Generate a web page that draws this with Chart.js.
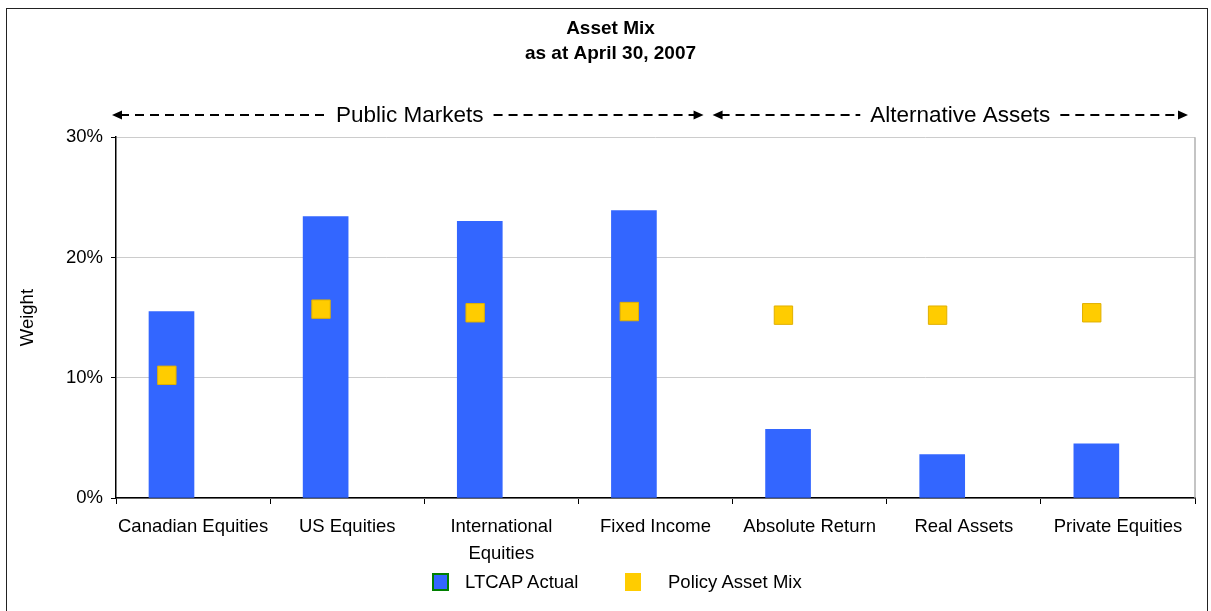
<!DOCTYPE html>
<html>
<head>
<meta charset="utf-8">
<title>Asset Mix</title>
<script src="https://cdn.jsdelivr.net/npm/chart.js@4.4.0/dist/chart.umd.min.js"></script>
<style>
    html, body { margin: 0; padding: 0; background: #fff; }
    body { width: 1211px; height: 611px; position: relative; overflow: hidden; font-family: 'Liberation Sans', Arial, sans-serif; }
    #frame { position: absolute; left: 6px; top: 8px; width: 1202px; height: 620px; border: 1.5px solid #222; box-sizing: border-box; }
    #wrap { position: absolute; left: 0; top: 0; width: 1211px; height: 611px; }
    .leg { position: absolute; font-size: 18.5px; color: #000; line-height: 18px; }
    .box { position: absolute; box-sizing: border-box; }
</style>
</head>
<body>
<div id="frame"></div>
<div id="wrap"><canvas id="chart" width="1211" height="611"></canvas></div>
<div class="box" style="left:432px; top:573px; width:17px; height:18px; background:#3366FF; border:2px solid #008000;"></div>
<div class="leg" style="left:465px; top:573px;">LTCAP Actual</div>
<div class="box" style="left:625px; top:573px; width:16px; height:18px; background:#FFCC00;"></div>
<div class="leg" style="left:668px; top:573px;">Policy Asset Mix</div>
<script>
// 资产类别
const CATEGORIES = [
    'Canadian Equities', 'US Equities', ['International', 'Equities'], 'Fixed Income',
    'Absolute Return', 'Real Assets', 'Private Equities'
];
const LTCAP_ACTUAL = [15.5, 23.4, 23.0, 23.9, 5.7, 3.6, 4.5];
const POLICY_MIX = [10.2, 15.7, 15.4, 15.5, 15.2, 15.2, 15.4];
const Y_TICKS = [0, 10, 20, 30];
const GROUPS = ['Public Markets', 'Alternative Assets'];

const BAR_SHIFT = -0.14;     // 柱子偏左
const MARK_SHIFT = -0.17;

const FONT = "'Liberation Sans', Arial, sans-serif";

// 顶部虚线箭头
const groupArrows = {
    id: 'groupArrows',
    afterDraw(chart) {
        const { ctx, chartArea } = chart;
        const x = chart.scales.x;
        const split = (x.getPixelForValue(3) + x.getPixelForValue(4)) / 2;
        const y = 115;
        const spans = [
            [chartArea.left - 4, split - 29, GROUPS[0]],
            [split - 20, chartArea.right - 7, GROUPS[1]]
        ];
        ctx.save();
        ctx.font = '22.5px ' + FONT;
        ctx.fillStyle = '#000';
        ctx.strokeStyle = '#000';
        ctx.lineWidth = 2;
        ctx.textBaseline = 'middle';
        ctx.textAlign = 'center';
        spans.forEach(([a, b, label]) => {
            const mid = (a + b) / 2 + (label === GROUPS[1] ? 10 : 2);
            const tw = ctx.measureText(label).width;
            ctx.fillText(label, mid, y + 1);
            ctx.setLineDash([9, 6]);
            ctx.beginPath();
            ctx.moveTo(a + 8, y); ctx.lineTo(mid - tw / 2 - 10, y);
            ctx.moveTo(mid + tw / 2 + 10, y); ctx.lineTo(b - 8, y);
            ctx.stroke();
            ctx.setLineDash([]);
            ctx.beginPath();
            ctx.moveTo(a, y); ctx.lineTo(a + 10, y - 4.5); ctx.lineTo(a + 10, y + 4.5); ctx.closePath();
            ctx.moveTo(b, y); ctx.lineTo(b - 10, y - 4.5); ctx.lineTo(b - 10, y + 4.5); ctx.closePath();
            ctx.fill();
        });
        // 右侧边框
        ctx.strokeStyle = '#b0b0b0';
        ctx.lineWidth = 1.5;
        ctx.beginPath();
        ctx.moveTo(chartArea.right, chartArea.top);
        ctx.lineTo(chartArea.right, chartArea.bottom);
        ctx.stroke();
        ctx.restore();
    }
};

new Chart(document.getElementById('chart'), {
    data: {
        labels: CATEGORIES,
        datasets: [
            {
                type: 'scatter',
                label: 'Policy Asset Mix',
                xAxisID: 'xp',
                data: POLICY_MIX.map((v, i) => ({ x: i + MARK_SHIFT, y: v })),
                pointStyle: 'rect',
                pointRadius: 13,
                backgroundColor: '#FFCC00',
                borderColor: '#E0B000',
                borderWidth: 1,
                order: 1
            },
            {
                type: 'bar',
                label: 'LTCAP Actual',
                xAxisID: 'xp',
                data: LTCAP_ACTUAL.map((v, i) => ({ x: i + BAR_SHIFT, y: v })),
                backgroundColor: '#3366FF',
                borderWidth: 0,
                barThickness: 45,
                order: 2
            }
        ]
    },
    options: {
        responsive: false,
        animation: false,
        layout: { padding: { left: 26, right: 16, top: 0, bottom: 0 } },
        scales: {
            x: {
                type: 'category',
                offset: true,
                grid: { offset: true, drawOnChartArea: false, drawTicks: true, tickLength: 6, tickColor: '#000' },
                border: { color: '#000', width: 1.5 },
                ticks: { color: '#000', font: { family: FONT, size: 18.5, lineHeight: 1.46 }, padding: 9, maxRotation: 0, autoSkip: false },
                afterFit(scale) { scale.height = 113; }
            },
            xp: {
                type: 'linear',
                display: false,
                offset: false,
                min: -0.5,
                max: CATEGORIES.length - 0.5
            },
            y: {
                min: Y_TICKS[0],
                max: Y_TICKS[Y_TICKS.length - 1],
                afterBuildTicks(scale) { scale.ticks = Y_TICKS.map(v => ({ value: v })); },
                grid: { color: '#cccccc', lineWidth: 1, tickLength: 5, tickColor: '#000' },
                border: { color: '#000', width: 1.5 },
                ticks: { color: '#000', font: { family: FONT, size: 18.5 }, padding: 8, callback: v => v + '%' },
                title: { display: true, text: 'Weight', color: '#000', font: { family: FONT, size: 18.5 }, padding: { top: -9, bottom: 0 } },
                afterFit(scale) { scale.width = 90; }
            }
        },
        plugins: {
            legend: { display: false },
            tooltip: { enabled: false },
            title: {
                display: true,
                text: ['Asset Mix', 'as at April 30, 2007'],
                color: '#000',
                font: { family: FONT, size: 19, weight: 'bold', lineHeight: 1.32 },
                padding: { top: 16.5, bottom: 70.5 }
            }
        }
    },
    plugins: [groupArrows]
});
</script>
</body>
</html>
